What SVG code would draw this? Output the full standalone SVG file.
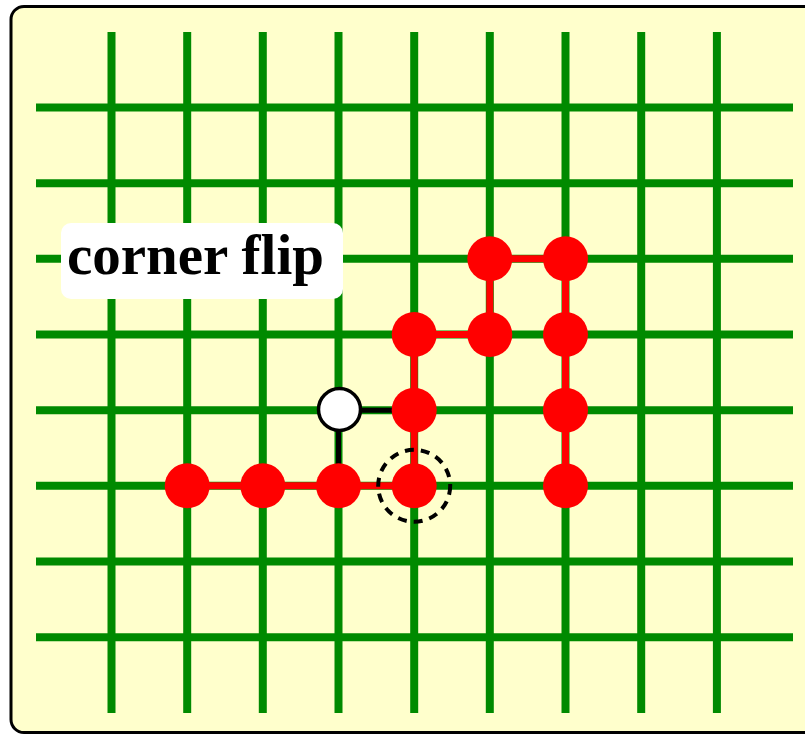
<svg xmlns="http://www.w3.org/2000/svg" width="805" height="735" viewBox="0 0 805 735">
<style>
.grid line{stroke:#008a00;stroke-width:8}
.red{stroke:#ff0000;stroke-width:7;fill:none}
.blk{stroke:#000;stroke-width:5}
.rn{fill:#ff0000}
.wn{fill:#fff;stroke:#000;stroke-width:3.5}
.lbl{font-family:"Liberation Serif","Times New Roman",serif;font-weight:bold;font-size:57px;fill:#000}
</style>
<rect x="11" y="6.5" width="820" height="726" rx="13" fill="#ffffcc" stroke="#000" stroke-width="3"/>
<g id="grid" class="grid">
<line x1="111.5" y1="32" x2="111.5" y2="713"/>
<line x1="187.2" y1="32" x2="187.2" y2="713"/>
<line x1="262.8" y1="32" x2="262.8" y2="713"/>
<line x1="338.5" y1="32" x2="338.5" y2="713"/>
<line x1="414.2" y1="32" x2="414.2" y2="713"/>
<line x1="489.8" y1="32" x2="489.8" y2="713"/>
<line x1="565.5" y1="32" x2="565.5" y2="713"/>
<line x1="641.2" y1="32" x2="641.2" y2="713"/>
<line x1="716.9" y1="32" x2="716.9" y2="713"/>
<line x1="36" y1="107.5" x2="793" y2="107.5"/>
<line x1="36" y1="183.2" x2="793" y2="183.2"/>
<line x1="36" y1="258.8" x2="793" y2="258.8"/>
<line x1="36" y1="334.5" x2="793" y2="334.5"/>
<line x1="36" y1="410.2" x2="793" y2="410.2"/>
<line x1="36" y1="485.8" x2="793" y2="485.8"/>
<line x1="36" y1="561.5" x2="793" y2="561.5"/>
<line x1="36" y1="637.2" x2="793" y2="637.2"/>
</g>
<g id="label">
<rect x="61" y="223" width="282" height="76" rx="10" fill="#fff"/>
<text class="lbl" x="67" y="274">corner flip</text>
</g>
<g id="connectors">
<polyline class="red" points="187.2,485.8 414.2,485.8 414.2,334.5 489.8,334.5 489.8,258.8 565.5,258.8 565.5,485.8"/>
<line class="blk" x1="338.5" y1="410.2" x2="414.2" y2="410.2"/>
<line class="blk" x1="338.5" y1="410.2" x2="338.5" y2="485.8"/>
</g>
<g id="nodes">
<g id="n1"><circle class="rn" cx="187.2" cy="485.8" r="22.5"/></g>
<g id="n2"><circle class="rn" cx="262.8" cy="485.8" r="22.5"/></g>
<g id="n3"><circle class="rn" cx="338.5" cy="485.8" r="22.5"/></g>
<g id="n4"><circle class="rn" cx="414.2" cy="485.8" r="22.5"/></g>
<g id="n5"><circle class="rn" cx="414.2" cy="410.2" r="22.5"/></g>
<g id="n6"><circle class="rn" cx="414.2" cy="334.5" r="22.5"/></g>
<g id="n7"><circle class="rn" cx="489.8" cy="334.5" r="22.5"/></g>
<g id="n8"><circle class="rn" cx="489.8" cy="258.8" r="22.5"/></g>
<g id="n9"><circle class="rn" cx="565.5" cy="258.8" r="22.5"/></g>
<g id="n10"><circle class="rn" cx="565.5" cy="334.5" r="22.5"/></g>
<g id="n11"><circle class="rn" cx="565.5" cy="410.2" r="22.5"/></g>
<g id="n12"><circle class="rn" cx="565.5" cy="485.8" r="22.5"/></g>
<g id="flip"><circle class="wn" cx="339.5" cy="409.5" r="21"/></g>
<g id="target"><circle cx="414.2" cy="485.8" r="36" fill="none" stroke="#000" stroke-width="4" stroke-dasharray="9,7"/></g>
</g>
</svg>
